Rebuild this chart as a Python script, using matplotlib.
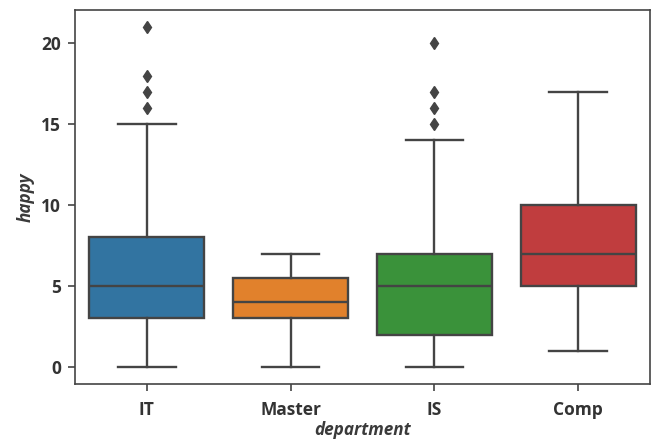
import matplotlib
matplotlib.use("Agg")
import matplotlib.pyplot as plt

# Box summary per department (whiskers, quartiles, median, outliers)
departments = ["IT", "Master", "IS", "Comp"]
whislo = [0, 0, 0, 1]
q1 = [3, 3, 2, 5]
med = [5, 4, 5, 7]
q3 = [8, 5.5, 7, 10]
whishi = [15, 7, 14, 17]
fliers = [[16, 17, 18, 21], [], [15, 16, 17, 20], []]

colors = ["#3274a1", "#e1812c", "#3a923a", "#c03d3e"]
line_color = "#444444"
text_color = "#333333"

stats = []
for i, name in enumerate(departments):
    stats.append(dict(label=name, whislo=whislo[i], q1=q1[i], med=med[i],
                      q3=q3[i], whishi=whishi[i], fliers=fliers[i]))

fig = plt.figure(figsize=(6.54, 4.43), dpi=100)
ax = fig.add_axes([75 / 654, 59 / 443, 575 / 654, 374 / 443])

bp = ax.bxp(stats, positions=range(len(departments)), widths=0.8,
            patch_artist=True, showfliers=True,
            boxprops=dict(edgecolor=line_color, linewidth=1.7),
            medianprops=dict(color=line_color, linewidth=1.7),
            whiskerprops=dict(color=line_color, linewidth=1.7),
            capprops=dict(color=line_color, linewidth=1.7),
            flierprops=dict(marker="d", markerfacecolor=line_color,
                            markeredgecolor=line_color, markersize=6.5,
                            linestyle="none"))
for cap in bp["caps"]:
    x0, x1 = cap.get_xdata()
    c = (x0 + x1) / 2
    cap.set_xdata([c - 0.2, c + 0.2])
for patch, col in zip(bp["boxes"], colors):
    patch.set_facecolor(col)

ax.set_xlim(-0.5, 3.5)
ax.set_ylim(-1.05, 22.05)
ax.set_yticks([0, 5, 10, 15, 20])

for s in ax.spines.values():
    s.set_color(line_color)
    s.set_linewidth(1.2)

ax.tick_params(axis="both", colors=line_color, length=5, width=1.2,
               labelcolor=text_color)
ax.tick_params(axis="x", pad=7)
ax.tick_params(axis="y", pad=5)
tick_font = dict(family="Open Sans", weight="bold", size=12.5)
ax.set_xticks(range(len(departments)))
ax.set_xticklabels(departments, fontdict=tick_font)
for lab in ax.get_yticklabels():
    lab.set_fontproperties("Open Sans")
    lab.set_fontweight("bold")
    lab.set_fontsize(12.5)

label_font = dict(family="Open Sans", style="italic", weight="bold",
                  size=12.3, color="#3a3a3a")
ax.set_xlabel("department", fontdict=label_font, labelpad=2)
ax.set_ylabel("happy", fontdict=label_font, labelpad=5)

fig.savefig("out.png", dpi=100)
